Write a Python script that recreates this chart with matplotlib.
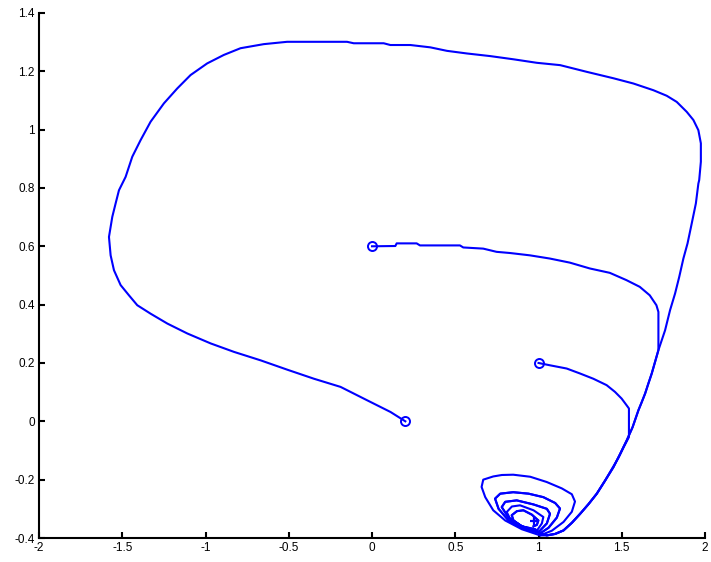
import numpy as np
import matplotlib
matplotlib.use("Agg")
from matplotlib import pyplot as plt

plt.rcParams["font.family"] = ["Liberation Sans", "DejaVu Sans"]

# --- trajectories (x, y) ---
# spiral loops near the attractor
loop_outer_x = [1.01, 0.90, 0.80, 0.728, 0.68, 0.658, 0.668, 0.728, 0.78, 0.848,
                0.95, 1.049, 1.14, 1.20, 1.219, 1.20, 1.15, 1.08, 1.01]
loop_outer_y = [-0.391, -0.37, -0.34, -0.305, -0.26, -0.225, -0.20, -0.189, -0.184, -0.183,
                -0.19, -0.208, -0.23, -0.25, -0.275, -0.31, -0.345, -0.375, -0.391]
loop_mid_x = [1.01, 0.90, 0.82, 0.76, 0.739, 0.77, 0.848, 0.94, 1.029, 1.10, 1.129,
              1.11, 1.06, 1.01]
loop_mid_y = [-0.384, -0.365, -0.34, -0.30, -0.265, -0.248, -0.243, -0.248, -0.260, -0.28, -0.299,
              -0.33, -0.365, -0.384]
loop_in3_x = [1.00, 0.90, 0.82, 0.779, 0.80, 0.869, 0.97, 1.05, 1.069, 1.05, 1.00]
loop_in3_y = [-0.380, -0.36, -0.33, -0.294, -0.276, -0.271, -0.285, -0.30, -0.317, -0.35, -0.380]
loop_in4_x = [0.99, 0.90, 0.83, 0.809, 0.84, 0.889, 0.97, 1.029, 1.02, 0.99]
loop_in4_y = [-0.375, -0.36, -0.335, -0.311, -0.292, -0.288, -0.305, -0.328, -0.35, -0.375]
loop_in5_x = [0.98, 0.90, 0.85, 0.839, 0.87, 0.909, 0.96, 0.999, 0.99, 0.97]
loop_in5_y = [-0.37, -0.36, -0.34, -0.322, -0.308, -0.305, -0.32, -0.340, -0.355, -0.36]

# common descending branch on the right
tail_x = [1.72, 1.70, 1.68, 1.66, 1.64, 1.62, 1.60, 1.565, 1.53, 1.49, 1.45, 1.40, 1.35,
          1.30, 1.25, 1.20, 1.15, 1.10, 1.05]
tail_y = [0.244, 0.204, 0.164, 0.130, 0.095, 0.066, 0.038, -0.020, -0.065, -0.112, -0.157,
          -0.203, -0.248, -0.284, -0.317, -0.348, -0.374, -0.386, -0.391]

a_x = [0.2, 0.111, -0.029, -0.189, -0.349, -0.509, -0.669, -0.829, -0.969, -1.109,
       -1.229, -1.330, -1.410, -1.460, -1.510, -1.550, -1.570, -1.580, -1.560, -1.540,
       -1.520, -1.480, -1.440, -1.390, -1.330, -1.250, -1.170, -1.090, -0.990, -0.890,
       -0.790, -0.650, -0.510, -0.150, -0.110, 0.070, 0.110, 0.230, 0.350, 0.450,
       0.570, 0.710, 0.850, 0.990, 1.130, 1.290, 1.450, 1.570, 1.690, 1.770,
       1.830, 1.890, 1.930, 1.960, 1.975, 1.975, 1.965, 1.960, 1.945, 1.920,
       1.895, 1.870, 1.845, 1.820, 1.790, 1.760]
a_y = [0.0, 0.032, 0.072, 0.118, 0.146, 0.177, 0.209, 0.238, 0.267, 0.301,
       0.335, 0.369, 0.398, 0.432, 0.467, 0.518, 0.569, 0.632, 0.701, 0.747,
       0.792, 0.838, 0.907, 0.964, 1.027, 1.090, 1.141, 1.187, 1.227, 1.256,
       1.279, 1.293, 1.301, 1.301, 1.296, 1.296, 1.290, 1.290, 1.282, 1.270,
       1.261, 1.252, 1.241, 1.229, 1.221, 1.198, 1.176, 1.158, 1.135, 1.116,
       1.095, 1.061, 1.033, 0.998, 0.953, 0.890, 0.827, 0.815, 0.747, 0.678,
       0.610, 0.558, 0.495, 0.438, 0.381, 0.312]

b_x = [0.0, 0.14, 0.148, 0.268, 0.288, 0.528, 0.548, 0.668, 0.748, 0.828,
       0.948, 1.068, 1.188, 1.308, 1.428, 1.528, 1.608, 1.668, 1.708, 1.720, 1.720]
b_y = [0.6, 0.601, 0.610, 0.610, 0.603, 0.603, 0.596, 0.592, 0.581, 0.577,
       0.569, 0.558, 0.544, 0.524, 0.509, 0.484, 0.461, 0.432, 0.398, 0.375, 0.278]

c_x = [1.0, 1.069, 1.169, 1.249, 1.329, 1.409, 1.459, 1.499, 1.529, 1.543, 1.543, 1.51, 1.48]
c_y = [0.2, 0.192, 0.181, 0.164, 0.146, 0.124, 0.101, 0.078, 0.055, 0.044, -0.054, -0.09, -0.125]

starts_x = [0.2, 0.0, 1.0]
starts_y = [0.0, 0.6, 0.2]
eq_x, eq_y = 0.97, -0.34

xticks = [-2, -1.5, -1, -0.5, 0, 0.5, 1, 1.5, 2]
xtick_labels = ["-2", "-1.5", "-1", "-0.5", "0", "0.5", "1", "1.5", "2"]
yticks = [-0.4, -0.2, 0, 0.2, 0.4, 0.6, 0.8, 1, 1.2, 1.4]
ytick_labels = ["-0.4", "-0.2", "0", "0.2", "0.4", "0.6", "0.8", "1", "1.2", "1.4"]

BLUE = "#0000ff"

fig = plt.figure(figsize=(7.11, 5.62), dpi=100)
ax = fig.add_axes([0.0549, 0.0427, 0.9367, 0.9343])

traj_a_x = a_x + tail_x + loop_outer_x + loop_in3_x + loop_in5_x
traj_a_y = a_y + tail_y + loop_outer_y + loop_in3_y + loop_in5_y
traj_b_x = b_x + tail_x + loop_mid_x + loop_in4_x
traj_b_y = b_y + tail_y + loop_mid_y + loop_in4_y
traj_c_x = c_x + tail_x[11:] + loop_mid_x + loop_in3_x + loop_in5_x
traj_c_y = c_y + tail_y[11:] + loop_mid_y + loop_in3_y + loop_in5_y

for tx, ty in [(traj_a_x, traj_a_y), (traj_b_x, traj_b_y), (traj_c_x, traj_c_y)]:
    ax.plot(tx, ty, color=BLUE, lw=1.5, solid_joinstyle="round")

ax.plot(starts_x, starts_y, "o", ms=6.5, mfc="none", mec=BLUE, mew=1.4)
ax.plot([eq_x], [eq_y], "+", ms=6, color=BLUE, mew=1.6)

ax.set_xlim(-2, 2)
ax.set_ylim(-0.4, 1.4)
ax.set_xticks(xticks)
ax.set_xticklabels(xtick_labels)
ax.set_yticks(yticks)
ax.set_yticklabels(ytick_labels)
ax.spines["top"].set_visible(False)
ax.spines["right"].set_visible(False)
for s in ["left", "bottom"]:
    ax.spines[s].set_linewidth(1.5)
ax.tick_params(direction="in", length=4, width=1.5, labelsize=8.5, pad=3)

fig.savefig("out.png", dpi=100)
